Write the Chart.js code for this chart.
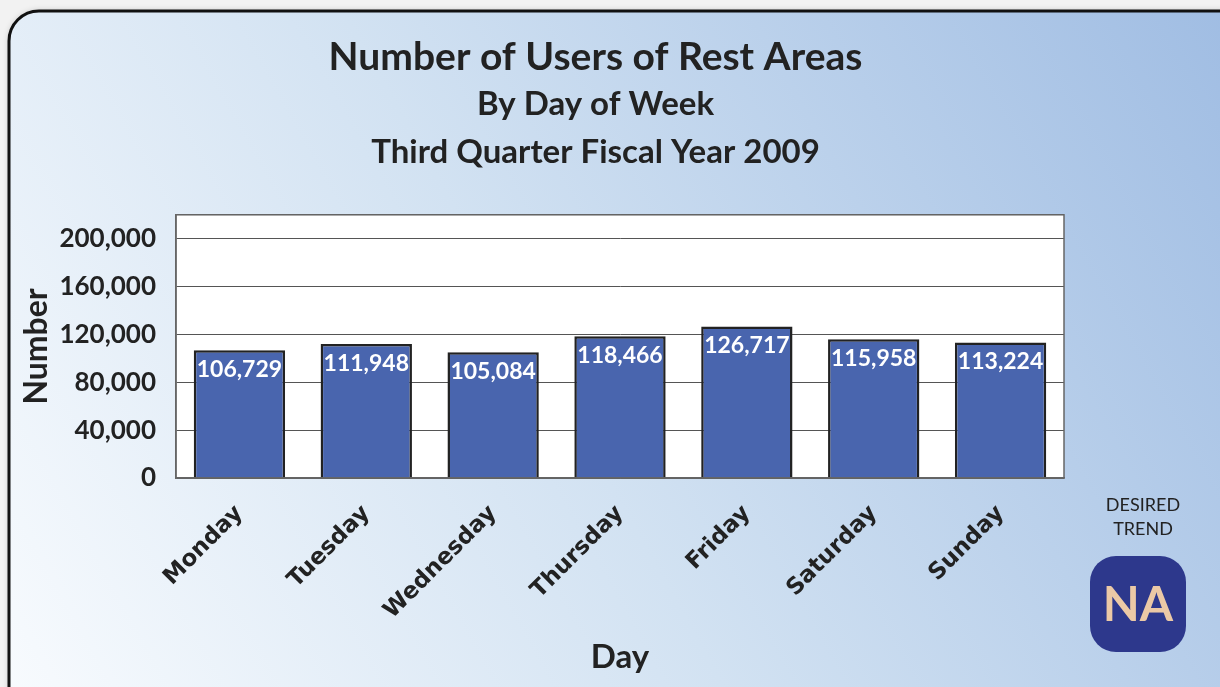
<!DOCTYPE html>
<html>
<head>
<meta charset="utf-8">
<script src="https://cdn.jsdelivr.net/npm/chart.js@4/dist/chart.umd.min.js"></script>
<style>
	html, body { margin: 0; padding: 0; background: #f2f2f2; }
	#wrapper { width: 1220px; height: 687px; position: relative; }
</style>
</head>
<body>
<div id="wrapper"><canvas id="bc-rest-areas"></canvas></div>
<script>
const days = ["Monday", "Tuesday", "Wednesday", "Thursday", "Friday", "Saturday", "Sunday"];
const users = [106729, 111948, 105084, 118466, 126717, 115958, 113224];
const yTicks = [0, 40000, 80000, 120000, 160000, 200000];
const yMax = 220000;
const titleLines = ["Number of Users of Rest Areas"];
const subtitleLines = ["By Day of Week", "Third Quarter Fiscal Year 2009"];
const trendLabel = ["DESIRED", "TREND"];
const trendValue = "NA";

const FONT = "Lato, 'Open Sans', sans-serif";
const WIDE_FONT = "'DejaVu Sans', sans-serif";

// panel background, white plot area and border
const panelPlugin = {
	id: "panel",
	beforeDraw(chart) {
		let ctx = chart.ctx;
		let { left, top, right, bottom } = chart.chartArea;
		ctx.save();
		ctx.fillStyle = "#f2f2f2";
		ctx.fillRect(0, 0, chart.width, chart.height);

		let grad = ctx.createLinearGradient(0, chart.height, chart.width, 0);
		grad.addColorStop(0, "#f8fbfe");
		grad.addColorStop(0.45, "#d2e2f2");
		grad.addColorStop(1, "#a0bde3");
		ctx.shadowColor = "rgba(0,0,0,0.25)";
		ctx.shadowBlur = 6;
		ctx.beginPath();
		ctx.roundRect(9, 11, chart.width + 40, chart.height + 40, 30);
		ctx.fillStyle = grad;
		ctx.fill();
		ctx.shadowColor = "transparent";
		ctx.lineWidth = 3;
		ctx.strokeStyle = "#111";
		ctx.stroke();

		ctx.fillStyle = "#ffffff";
		ctx.fillRect(left, top, right - left, bottom - top);
		ctx.restore();
	},
	afterDraw(chart) {
		let ctx = chart.ctx;
		let { left, top, right, bottom } = chart.chartArea;
		ctx.save();
		ctx.strokeStyle = "#666";
		ctx.lineWidth = 1.5;
		ctx.strokeRect(left, top, right - left, bottom - top);

		// desired trend badge
		ctx.fillStyle = "#222";
		ctx.font = "18px " + FONT;
		ctx.textAlign = "center";
		ctx.textBaseline = "middle";
		ctx.fillText(trendLabel[0], 1143, 505);
		ctx.fillText(trendLabel[1], 1143, 529);

		ctx.beginPath();
		ctx.roundRect(1090, 556, 96, 96, 26);
		ctx.fillStyle = "#2d388c";
		ctx.fill();
		ctx.fillStyle = "#ebc9a6";
		ctx.font = "bold 48px " + FONT;
		ctx.fillText(trendValue, 1138, 606);
		ctx.restore();
	},
};

// white value labels inside bar tops
const valueLabelPlugin = {
	id: "valueLabels",
	afterDatasetsDraw(chart) {
		let ctx = chart.ctx;
		let meta = chart.getDatasetMeta(0);
		ctx.save();
		ctx.fillStyle = "#ffffff";
		ctx.font = "bold 23px " + FONT;
		ctx.textAlign = "center";
		ctx.textBaseline = "top";
		meta.data.forEach((bar, idx) => {
			let value = chart.data.datasets[0].data[idx];
			ctx.fillText(value.toLocaleString("en-US"), bar.x, bar.y + 8);
		});
		ctx.restore();
	},
};

let ctx = document.getElementById("bc-rest-areas").getContext("2d");

new Chart(ctx, {
	type: "bar",
	data: {
		labels: days,
		datasets: [
			{
				label: "Users",
				data: users,
				backgroundColor: "#4965ae",
				borderColor: "#222",
				borderWidth: 2.5,
				barPercentage: 0.72,
				categoryPercentage: 1,
			},
		],
	},
	options: {
		responsive: true,
		maintainAspectRatio: false,
		animation: false,
		layout: {
			padding: { left: 17, right: 46, top: 34, bottom: 10 },
		},
		scales: {
			x: {
				afterFit: (axis) => {
					axis.height = 199;
				},
				grid: { display: false },
				border: { display: true, color: "#666", width: 1.5 },
				ticks: {
					color: "#222",
					font: { family: WIDE_FONT, size: 23, weight: "bold" },
					maxRotation: 45,
					minRotation: 45,
					padding: 14,
				},
				title: {
					display: true,
					text: "Day",
					color: "#222",
					font: { family: FONT, size: 33, weight: "bold" },
					padding: { top: 0, bottom: 0 },
				},
			},
			y: {
				min: 0,
				max: yMax,
				afterBuildTicks: (axis) => {
					axis.ticks = yTicks.concat([yMax]).map((v) => ({ value: v }));
				},
				afterFit: (axis) => {
					axis.width = 159;
				},
				grid: { color: "#555", lineWidth: 1, drawTicks: false },
				border: { display: true, color: "#666", width: 1.5 },
				ticks: {
					color: "#222",
					font: { family: FONT, size: 26, weight: "bold" },
					padding: 20,
					callback: (v) => (yTicks.includes(v) ? v.toLocaleString("en-US") : ""),
				},
				title: {
					display: true,
					text: "Number",
					color: "#222",
					font: { family: FONT, size: 32, weight: "bold" },
					padding: { top: 0, bottom: 0 },
				},
			},
			// empty right-hand space that holds the desired trend badge
			yRight: {
				type: "linear",
				position: "right",
				afterFit: (axis) => {
					axis.width = 110;
				},
				grid: { display: false },
				border: { display: false },
				ticks: { display: false },
			},
		},
		plugins: {
			legend: { display: false },
			tooltip: { enabled: false },
			title: {
				display: true,
				text: titleLines,
				color: "#222",
				font: { family: FONT, size: 39, weight: "bold", lineHeight: 1.2 },
				padding: { top: 0, bottom: 0 },
			},
			subtitle: {
				display: true,
				text: subtitleLines,
				color: "#222",
				font: { family: FONT, size: 33, weight: "bold", lineHeight: 1.4545 },
				padding: { top: 0, bottom: 38 },
			},
		},
	},
	plugins: [panelPlugin, valueLabelPlugin],
});
</script>
</body>
</html>
